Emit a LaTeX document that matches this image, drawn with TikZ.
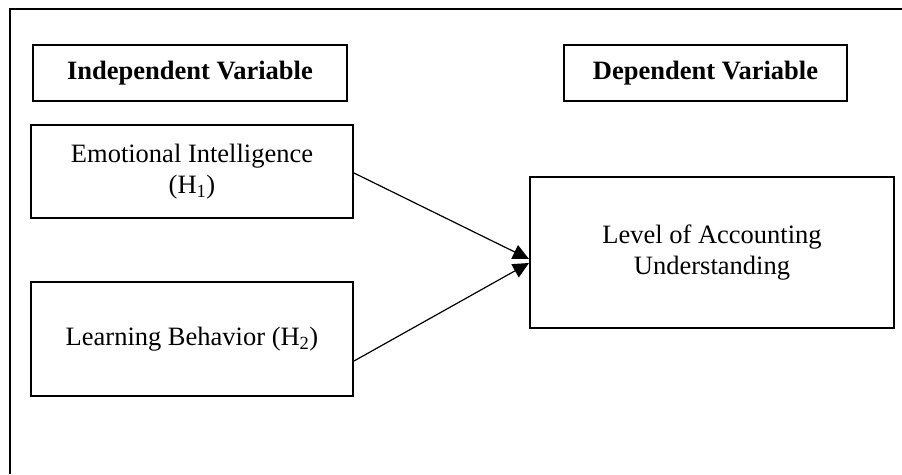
\documentclass[tikz,border=0pt]{standalone}
\usepackage{fontspec}
\setmainfont{Liberation Serif}
\usetikzlibrary{arrows.meta}
\begin{document}
\begin{tikzpicture}[x=1pt,y=-1pt,
				every node/.style={draw,line width=2pt,align=center,inner sep=0pt,
					font=\fontsize{26.5}{31}\selectfont},
				head/.style={font=\fontsize{26.5}{31}\selectfont\bfseries},
				link/.style={line width=1.2pt,-{Triangle[length=16pt,width=15pt]}}]
\useasboundingbox (0,0) rectangle (902,474);
\draw[line width=2.4pt] (10,474) |- (902,9);
\node[head,minimum width=314pt,minimum height=56pt] (indep) at (190,73) {Independent Variable};
\node[head,minimum width=283pt,minimum height=56pt] (dep) at (705.5,73) {Dependent Variable};
\node[minimum width=322pt,minimum height=93pt] (emotion) at (192,171.5) {Emotional Intelligence\\(H\textsubscript{1})};
\node[minimum width=322pt,minimum height=114pt] (learning) at (192,339) {Learning Behavior (H\textsubscript{2})};
\node[minimum width=364pt,minimum height=151pt] (level) at (712,252.5) {Level of Accounting\\Understanding};
\draw[link] ([yshift=-1.5pt]emotion.east) -- ([yshift=-6.5pt]level.west);
\draw[link] ([yshift=-22pt]learning.east) -- ([yshift=-10.5pt]level.west);
\end{tikzpicture}
\end{document}
